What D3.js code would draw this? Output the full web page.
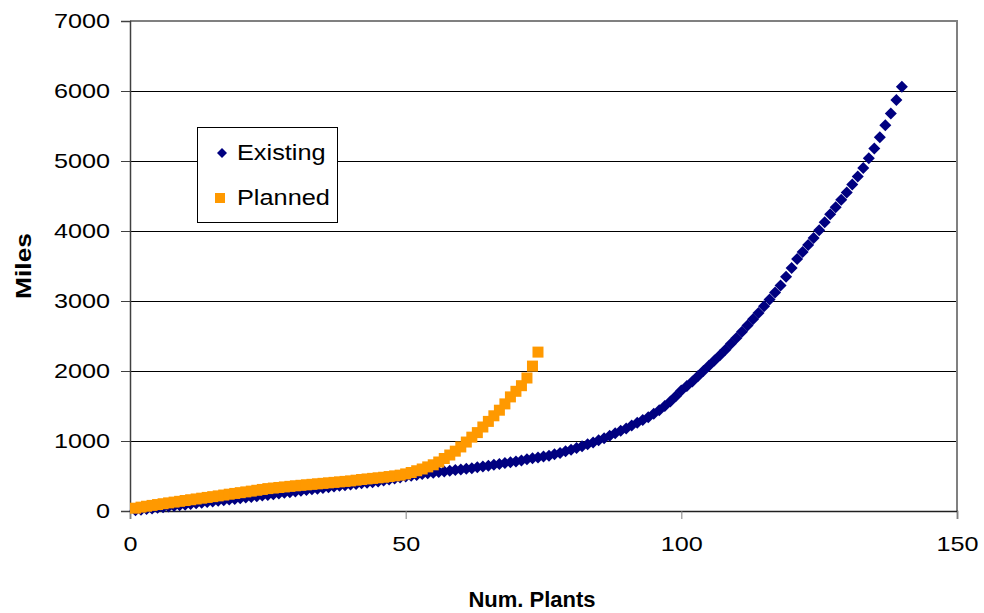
<!DOCTYPE html>
<html>
<head>
<meta charset="utf-8">
<script src="https://cdn.jsdelivr.net/npm/d3@7"></script>
<style>
  body { margin: 0; background: #fff; }
  text { font-family: "Liberation Sans", Arial, sans-serif; fill: #000; }
</style>
</head>
<body>
<div id="chart"></div>
<script>
// Existing plants: miles, one value per plant (x = 1..140)
const existingMiles = [
  10, 18, 27, 36, 45, 55, 64, 73, 82, 91, 100, 110,
  119, 128, 137, 146, 155, 164, 173, 182, 192, 201, 211, 220, 230,
  240, 250, 259, 269, 279, 289, 299, 309, 319, 329, 340, 350,
  359, 368, 377, 386, 395, 404, 412, 420, 435, 450, 465, 480,
  492, 503, 515, 527, 540, 548, 556, 565,
  575, 584, 593, 602, 612, 624, 636, 648, 660, 672, 684, 696, 708, 722, 740,
  752, 765, 777, 790,
  810, 830, 852, 875, 900,
  925, 952, 980, 1010,
  1040, 1075, 1110, 1145, 1180, 1220, 1260, 1300, 1340,
  1390, 1440, 1500, 1565, 1640, 1720,
  1785, 1850, 1925, 2000, 2075, 2150,
  2225, 2305, 2390, 2470, 2560, 2650,
  2740, 2830, 2925, 3020, 3120, 3220,
  3345, 3470, 3600,
  3700, 3800, 3900,
  4010, 4125, 4240,
  4340, 4445, 4550,
  4665, 4780, 4900,
  5040, 5180,
  5340, 5510, 5680, 5870, 6060
];
// Planned plants: miles (x = 1..74)
const plannedMiles = [
  40, 55, 68, 80, 92, 104, 116, 127, 138, 150,
  161, 172, 183, 194, 205, 216, 228, 240, 251, 262, 273, 284, 296, 308, 320,
  328, 336, 344, 352, 360, 367, 374, 381, 388, 395, 402, 409, 416, 423, 430,
  440, 450, 458, 466, 474, 482, 492, 502, 512,
  530, 550, 575, 600, 630, 660, 700, 750, 800, 855, 915, 985, 1055, 1120,
  1200, 1280, 1360, 1440, 1530, 1630, 1710, 1790, 1900, 2070, 2270
];
const xTicks = [0, 50, 100, 150];
const yTicks = [0, 1000, 2000, 3000, 4000, 5000, 6000, 7000];
const seriesNames = ["Existing", "Planned"];
const seriesColors = ["#000080", "#FF9900"];

const W = 984, H = 613;
const mLeft = 130, mRight = 957, mTop = 21, mBottom = 511;

const svg = d3.select("#chart").append("svg")
    .attr("width", W).attr("height", H);

const x = d3.scaleLinear().domain([0, 150]).range([mLeft, mRight]);
const y = d3.scaleLinear().domain([0, 7000]).range([mBottom, mTop]);

// stretch text horizontally like the original
function stretch(sel, k) {
  sel.each(function() {
    const w = this.getComputedTextLength();
    d3.select(this).attr("textLength", w * k).attr("lengthAdjust", "spacingAndGlyphs");
  });
}

// gridlines
svg.append("g")
  .selectAll("line")
  .data(yTicks.filter(v => v > 0 && v < 7000))
  .enter().append("line")
  .attr("x1", mLeft).attr("x2", mRight)
  .attr("y1", d => y(d)).attr("y2", d => y(d))
  .attr("stroke", "#000").attr("stroke-width", 1)
  .attr("shape-rendering", "crispEdges");

// top + right border
svg.append("path")
  .attr("d", `M${mLeft},${mTop}H${mRight}V${mBottom}`)
  .attr("fill", "none").attr("stroke", "#808080").attr("stroke-width", 1.5)
  .attr("shape-rendering", "crispEdges");

// y axis
const yAxis = svg.append("g")
  .attr("transform", `translate(${mLeft},0)`)
  .call(d3.axisLeft(y).tickValues(yTicks).tickFormat(d3.format("d")).tickSize(9).tickPadding(11));
yAxis.select(".domain").attr("stroke", "#404040").attr("stroke-width", 1.5);
yAxis.selectAll(".tick line").attr("stroke", "#404040");
yAxis.selectAll("text").attr("font-size", 21).attr("font-family", "Liberation Sans, Arial, sans-serif")
  .call(stretch, 1.2);

// x axis
const xAxis = svg.append("g")
  .attr("transform", `translate(0,${mBottom})`)
  .call(d3.axisBottom(x).tickValues(xTicks).tickFormat(d3.format("d")).tickSize(8).tickPadding(17));
xAxis.select(".domain").attr("stroke", "#202020").attr("stroke-width", 1.5);
xAxis.selectAll(".tick line").attr("stroke", "#808080");
xAxis.selectAll("text").attr("font-size", 21).attr("font-family", "Liberation Sans, Arial, sans-serif")
  .call(stretch, 1.2);

// markers
const diamond = d3.symbol().type(d3.symbolSquare).size(72)();

svg.append("g")
  .selectAll("path")
  .data(existingMiles)
  .enter().append("path")
  .attr("d", diamond)
  .attr("transform", (d, i) => `translate(${x(i + 1)},${y(d)}) rotate(45)`)
  .attr("fill", seriesColors[0]);

svg.append("g")
  .selectAll("rect")
  .data(plannedMiles)
  .enter().append("rect")
  .attr("x", (d, i) => x(i + 1) - 5.5)
  .attr("y", d => y(d) - 5.5)
  .attr("width", 11).attr("height", 11)
  .attr("fill", seriesColors[1]);

// axis titles
svg.append("text")
  .attr("x", 532).attr("y", 607)
  .attr("text-anchor", "middle")
  .attr("font-size", 22).attr("font-weight", "bold")
  .text("Num. Plants");

svg.append("text")
  .attr("transform", "translate(31,266) rotate(-90)")
  .attr("text-anchor", "middle")
  .attr("font-size", 22).attr("font-weight", "bold")
  .text("Miles")
  .call(stretch, 1.2);

// legend
const lg = svg.append("g");
lg.append("rect")
  .attr("x", 197.5).attr("y", 127.5).attr("width", 140).attr("height", 95)
  .attr("fill", "#fff").attr("stroke", "#000").attr("stroke-width", 1);
lg.append("path")
  .attr("d", d3.symbol().type(d3.symbolSquare).size(50)())
  .attr("transform", "translate(222,153) rotate(45)")
  .attr("fill", seriesColors[0]);
lg.append("rect")
  .attr("x", 215).attr("y", 193).attr("width", 10).attr("height", 10)
  .attr("fill", seriesColors[1]);
lg.selectAll("text.lab")
  .data(seriesNames)
  .enter().append("text")
  .attr("class", "lab")
  .attr("x", 237).attr("y", (d, i) => 160 + i * 45)
  .attr("font-size", 22)
  .text(d => d)
  .call(stretch, 1.15);
</script>
</body>
</html>
